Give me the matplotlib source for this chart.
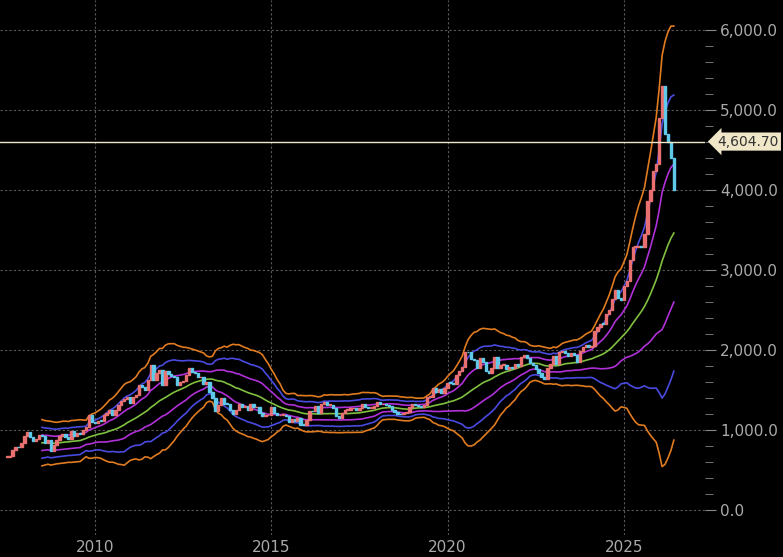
import numpy as np
import pandas as pd
import matplotlib
matplotlib.use("Agg")
import matplotlib.pyplot as plt
from matplotlib.patches import Rectangle

start_year = 2007.5
closes = [
 665, 672, 743, 789, 783, 834,
 923, 971, 916, 865, 885, 930, 918, 833, 870, 730, 814, 869,
 928, 942, 916, 883, 979, 927, 955, 953, 1001, 1040, 1180, 1096,
 1081, 1116, 1113, 1179, 1207, 1244, 1181, 1248, 1307, 1357, 1386, 1405,
 1333, 1409, 1431, 1556, 1536, 1500, 1628, 1813, 1620, 1714, 1746, 1565,
 1738, 1694, 1668, 1664, 1558, 1598, 1614, 1684, 1773, 1719, 1713, 1657,
 1662, 1578, 1596, 1476, 1393, 1234, 1313, 1396, 1327, 1323, 1250, 1202,
 1244, 1326, 1284, 1296, 1250, 1327, 1282, 1287, 1210, 1172, 1183, 1184,
 1284, 1213, 1183, 1184, 1190, 1172, 1095, 1135, 1115, 1142, 1065, 1061,
 1118, 1238, 1233, 1293, 1215, 1321, 1351, 1309, 1316, 1274, 1173, 1152,
 1211, 1249, 1249, 1268, 1269, 1242, 1269, 1322, 1280, 1271, 1275, 1303,
 1345, 1318, 1325, 1316, 1299, 1253, 1224, 1201, 1192, 1215, 1222, 1282,
 1321, 1313, 1292, 1284, 1305, 1409, 1414, 1520, 1472, 1511, 1464, 1517,
 1589, 1585, 1577, 1686, 1730, 1781, 1975, 1967, 1886, 1879, 1777, 1895,
 1848, 1734, 1708, 1769, 1907, 1770, 1814, 1814, 1757, 1783, 1775, 1829,
 1797, 1909, 1937, 1897, 1837, 1807, 1766, 1711, 1661, 1633, 1768, 1824,
 1928, 1827, 1969, 1990, 1963, 1919, 1965, 1940, 1849, 1983, 2036, 2063,
 2040, 2044, 2230, 2286, 2327, 2326, 2447, 2503, 2634, 2744, 2643, 2625,
 2798, 2858, 3124, 3289, 3289, 3303, 3290, 3448, 3858, 4002, 4240, 4320,
 4900, 5300, 4700, 4600, 4400, 4000,
]
last_price = 4604.70
y_ticks = [0, 1000, 2000, 3000, 4000, 5000, 6000]
x_ticks = [2010, 2015, 2020, 2025]

c = pd.Series(closes, dtype=float)
x = start_year + np.arange(len(c)) / 12.0
o = c.shift(1).fillna(c.iloc[0])
ma = c.rolling(26, min_periods=13).mean()
sd = c.rolling(26, min_periods=13).std(ddof=0)

fig = plt.figure(figsize=(7.83, 5.57), dpi=100, facecolor="black")
ax = fig.add_axes([0, 0.04, 705/783, 0.96])
ax.set_facecolor("black")
ax.set_xlim(2007.31, 2027.3)
ax.set_ylim(-312, 6375)

for yt in y_ticks:
    ax.axhline(yt, color="#5a5a5a", lw=0.8, ls=(0, (2, 2)), zorder=0)
for xt in x_ticks:
    ax.axvline(xt, color="#5a5a5a", lw=0.8, ls=(0, (2, 2)), zorder=0)

band_cols = {3: "#e07b20", 2: "#4a4ae0", 1: "#b030d8"}
for k, col in band_cols.items():
    ax.plot(x, ma + k*sd, color=col, lw=1.2, zorder=2)
    ax.plot(x, ma - k*sd, color=col, lw=1.2, zorder=2)
ax.plot(x, ma, color="#80c040", lw=1.2, zorder=2)

w = 0.8/12
for xi, oi, ci in zip(x, o, c):
    col = "#e87070" if ci >= oi else "#60c8e8"
    lo, hi = min(oi, ci), max(oi, ci)
    ax.add_patch(Rectangle((xi - w/2, lo), w, max(hi - lo, 8), color=col, zorder=3))

ax.axhline(last_price, color="#f0e6c8", lw=1.0, zorder=4)

ax.yaxis.tick_right()
ax.set_yticks(y_ticks)
ax.set_yticklabels([f"{v:,.1f}" for v in y_ticks])
ax.set_yticks(np.arange(0, 6200, 200), minor=True)
ax.tick_params(axis="y", which="both", colors="#888888", labelcolor="#aaaaaa",
               labelsize=11, length=8, direction="out", pad=3)
ax.tick_params(axis="y", which="minor", length=6)
ax.set_xticks(x_ticks)
ax.set_xticklabels([str(v) for v in x_ticks])
ax.tick_params(axis="x", colors="black", labelcolor="#aaaaaa", labelsize=11, length=0, pad=4)
for s in ax.spines.values():
    s.set_visible(False)

ax.annotate(f"{last_price:,.2f}", xy=(1.0, last_price), xycoords=("axes fraction", "data"),
            xytext=(9, 0), textcoords="offset points", va="center", ha="left",
            fontsize=10, color="#333333",
            bbox=dict(boxstyle="larrow,pad=0.15", fc="#f0e6c8", ec="none"), zorder=5,
            annotation_clip=False)

fig.savefig("out.png", dpi=100, facecolor="black")
